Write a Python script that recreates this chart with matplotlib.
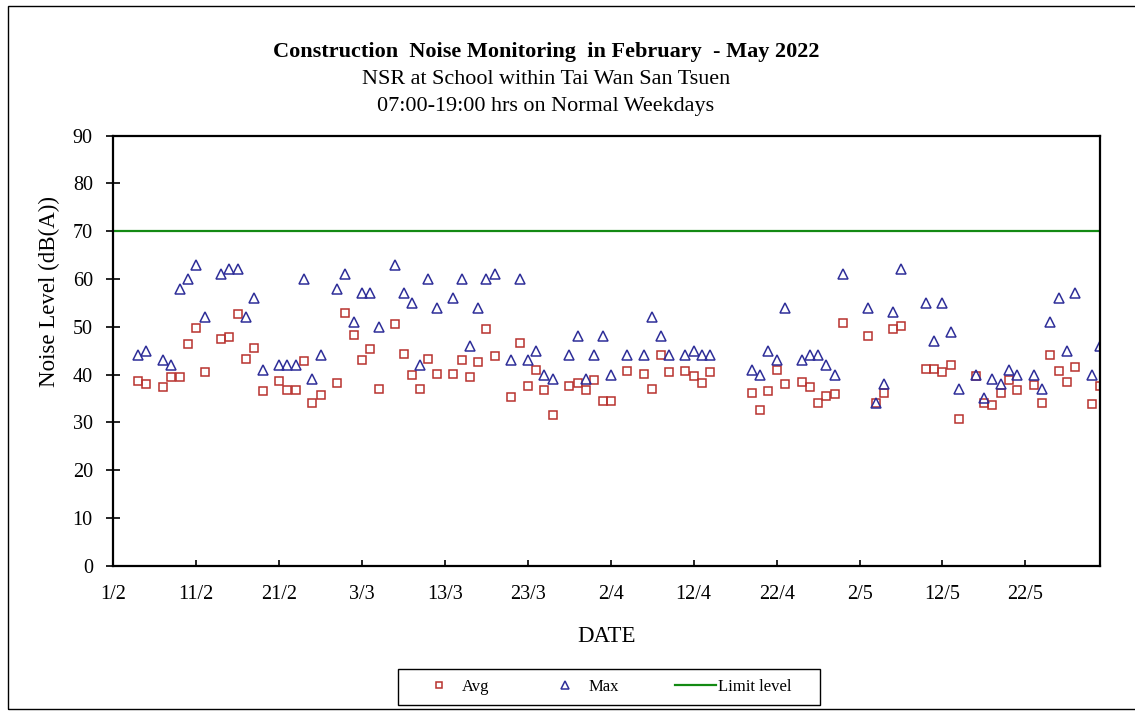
import matplotlib
matplotlib.use("Agg")
import matplotlib.pyplot as plt
from matplotlib.patches import Rectangle
import numpy as np
import datetime as dt

plt.rcParams['font.family'] = ['Liberation Serif', 'DejaVu Serif']

dates = [
    "2022-02-04", "2022-02-05", "2022-02-07", "2022-02-08", "2022-02-09", "2022-02-10", "2022-02-11", "2022-02-12",
    "2022-02-14", "2022-02-15", "2022-02-16", "2022-02-17", "2022-02-18", "2022-02-19",
    "2022-02-21", "2022-02-22", "2022-02-23", "2022-02-24", "2022-02-25", "2022-02-26",
    "2022-02-28", "2022-03-01", "2022-03-02", "2022-03-03", "2022-03-04", "2022-03-05",
    "2022-03-07", "2022-03-08", "2022-03-09", "2022-03-10", "2022-03-11", "2022-03-12",
    "2022-03-14", "2022-03-15", "2022-03-16", "2022-03-17", "2022-03-18", "2022-03-19",
    "2022-03-21", "2022-03-22", "2022-03-23", "2022-03-24", "2022-03-25", "2022-03-26",
    "2022-03-28", "2022-03-29", "2022-03-30", "2022-03-31", "2022-04-01", "2022-04-02",
    "2022-04-04", "2022-04-06", "2022-04-07", "2022-04-08", "2022-04-09",
    "2022-04-11", "2022-04-12", "2022-04-13", "2022-04-14",
    "2022-04-19", "2022-04-20", "2022-04-21", "2022-04-22", "2022-04-23",
    "2022-04-25", "2022-04-26", "2022-04-27", "2022-04-28", "2022-04-29", "2022-04-30",
    "2022-05-03", "2022-05-04", "2022-05-05", "2022-05-06", "2022-05-07",
    "2022-05-10", "2022-05-11", "2022-05-12", "2022-05-13", "2022-05-14",
    "2022-05-16", "2022-05-17", "2022-05-18", "2022-05-19", "2022-05-20", "2022-05-21",
    "2022-05-23", "2022-05-24", "2022-05-25", "2022-05-26", "2022-05-27", "2022-05-28",
    "2022-05-30", "2022-05-31",
]

avg_values = [
    38.7, 38.0, 37.3, 39.5, 39.5, 46.5, 49.7, 40.5,
    47.5, 47.8, 52.7, 43.3, 45.5, 36.5,
    38.7, 36.7, 36.7, 42.8, 34.0, 35.8,
    38.3, 52.9, 48.3, 43.1, 45.3, 37.0,
    50.6, 44.3, 39.9, 37.0, 43.3, 40.2,
    40.2, 43.0, 39.5, 42.7, 49.6, 43.8,
    35.4, 46.7, 37.7, 41.0, 36.7, 31.6,
    37.7, 38.2, 36.7, 38.9, 34.4, 34.4,
    40.8, 40.2, 37.0, 44.0, 40.5,
    40.8, 39.7, 38.2, 40.5,
    36.2, 32.6, 36.5, 41.0, 38.0,
    38.5, 37.5, 34.0, 35.5, 36.0, 50.9,
    48.1, 34.1, 36.1, 49.6, 50.1,
    41.2, 41.2, 40.5, 42.0, 30.7,
    39.8, 34.0, 33.7, 36.1, 38.9, 36.7,
    37.8, 34.1, 44.0, 40.8, 38.4, 41.5,
    33.8, 37.6,
]

max_values = [
    44, 45, 43, 42, 58, 60, 63, 52,
    61, 62, 62, 52, 56, 41,
    42, 42, 42, 60, 39, 44,
    58, 61, 51, 57, 57, 50,
    63, 57, 55, 42, 60, 54,
    56, 60, 46, 54, 60, 61,
    43, 60, 43, 45, 40, 39,
    44, 48, 39, 44, 48, 40,
    44, 44, 52, 48, 44,
    44, 45, 44, 44,
    41, 40, 45, 43, 54,
    43, 44, 44, 42, 40, 61,
    54, 34, 38, 53, 62,
    55, 47, 55, 49, 37,
    40, 35, 39, 38, 41, 40,
    40, 37, 51, 56, 45, 57,
    40, 46,
]

limit_level = 70
tick_labels = ["1/2", "11/2", "21/2", "3/3", "13/3", "23/3", "2/4", "12/4", "22/4", "2/5", "12/5", "22/5"]

x = [dt.datetime.strptime(d, "%Y-%m-%d") for d in dates]
x_start = dt.datetime(2022, 2, 1)
x_end = dt.datetime(2022, 5, 31)
tick_dates = [x_start + dt.timedelta(days=10 * i) for i in range(len(tick_labels))]

W, H = 1135, 715
fig = plt.figure(figsize=(W / 100, H / 100), dpi=100)
ax = fig.add_axes([113.3 / W, 1 - 565.7 / H, (1100 - 113.3) / W, (565.7 - 135.7) / H])

red = "#B8322E"
blue = "#2E2E99"
green = "#138A13"

ax.plot(x, avg_values, linestyle="none", marker="s", markersize=6.0, markerfacecolor="none",
        markeredgecolor=red, markeredgewidth=1.1, label="Avg")
ax.plot(x, max_values, linestyle="none", marker="^", markersize=7.0, markerfacecolor="none",
        markeredgecolor=blue, markeredgewidth=1.1, label="Max")
ax.plot([x_start, x_end], [limit_level, limit_level], color=green, linewidth=1.6, label="Limit level")

ax.set_xlim(x_start, x_end)
ax.set_ylim(0, 90)
ax.set_yticks(np.arange(0, 91, 10))
ax.set_xticks(tick_dates)
ax.set_xticklabels(tick_labels)
ax.tick_params(axis="x", direction="in", length=4.5, width=1.2, labelsize=14.5, pad=14)
ax.tick_params(axis="y", direction="inout", length=9.5, width=1.2, labelsize=14.5, pad=10)
for s in ax.spines.values():
    s.set_linewidth(1.6)
    s.set_color("black")

ax.set_ylabel("Noise Level (dB(A))", fontsize=16.5, va="center")
ax.yaxis.set_label_coords((49 - 113.3) / 986.7, (565.7 - 292) / 430)
ax.set_xlabel("DATE", fontsize=16.5, labelpad=16)

fig.text(546 / W, 1 - 52 / H, "Construction  Noise Monitoring  in February  - May 2022",
         ha="center", va="center", fontsize=16, fontweight="bold")
fig.text(546 / W, 1 - 80 / H, "NSR at School within Tai Wan San Tsuen",
         ha="center", va="center", fontsize=15.9)
fig.text(546 / W, 1 - 106 / H, "07:00-19:00 hrs on Normal Weekdays",
         ha="center", va="center", fontsize=15.9)

leg = fig.legend(loc="center", bbox_to_anchor=(605 / W, 1 - 687 / H), ncol=3, frameon=False,
                 fontsize=12, handlelength=2.45, columnspacing=3.35, handletextpad=0.15,
                 borderpad=0.0, markerscale=0.78)

fig.patches.append(Rectangle((398 / W, 1 - 705 / H), (820 - 398) / W, (705 - 669) / H,
                             transform=fig.transFigure, fill=False, edgecolor="black", linewidth=1.0))
fig.patches.append(Rectangle((8 / W, 1 - 709 / H), 1.2, (709 - 6) / H, transform=fig.transFigure,
                             fill=False, edgecolor="black", linewidth=1.0))

fig.savefig("out.png", dpi=100)
